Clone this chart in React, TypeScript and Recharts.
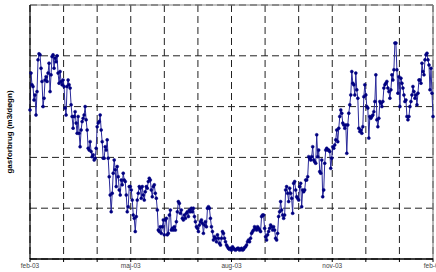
import { LineChart, Line, XAxis, YAxis, CartesianGrid, ReferenceLine } from "recharts";

// daily gas use (0-100 scale, grid every 20)
const febApr03 = [
  58.7, 73.2, 68.6, 67.9, 62.6, 64.6, 56.7, 65.9, 78.4, 80.8, 80.4, 75.1, 69.9, 60, 63.3, 70.5,
  71.8, 69.9, 73.2, 77.1, 65.9, 72.5, 79.7, 80.4, 75.1, 79.1, 77.7, 80, 73.2, 69.2, 73.8, 69.9,
  68.6, 70.5, 67.9, 59.4, 56.7, 67.9, 70.5, 68.6, 67.3, 60.7, 56.1, 51.5, 56.1, 58, 53.5, 49.5,
  56.1, 49.5, 44.2, 50.8, 54.1, 55.4, 56.7, 60, 54.8, 50.8, 43.6, 42.9, 46.2, 42.3, 40.3, 41, 39
];
const aprJun03 = [
  39.7, 43.6, 52.1, 53.5, 54.1, 56.7, 50.8, 46.2, 39.7, 39.7, 44.2, 42.9, 46.9, 39.7, 32.4, 25.2,
  18.6, 25.9, 33.8, 39, 35.1, 28.5, 36.4, 32.4, 27.2, 25.2, 31.1, 29.2, 33.8, 31.1, 30.5, 25.2,
  18.6, 20.6, 28.5, 28.5, 27.2, 23.2, 17.3, 16, 10.8, 16.7, 23.2, 25.9, 28.5, 27.9, 23.9, 28.5,
  25.2, 23.2, 26.5, 28.5, 27.9, 30.5, 31.8, 31.1, 27.2, 24.5, 28.5, 29.2, 25.9, 23.9, 19.3, 11.4,
  10.8, 12.7, 10.1, 12.7, 15.4
];
const junAug03 = [
  9.5, 15.4, 16, 9.5, 10.1, 17.3, 19.3, 11.4, 12.1, 11.4, 12.7, 11.4, 14.7, 18.6, 22.6, 21.9,
  18, 19.3, 16, 15.4, 17.3, 16, 18, 18.6, 16.7, 19.3, 18.6, 20, 18.6, 20, 16.7, 14.7,
  12.7, 12.1, 10.8, 13.4, 14.7, 15.4, 14.1, 10.1, 13.4, 14.7, 12.7, 20, 20.6, 20, 16, 12.7,
  10.8, 7.5, 8.8, 8.2, 6.8, 9.5, 8.2, 6.2, 5.5, 8.2, 10.8, 10.1, 8.2, 6.8, 5.5, 4.8,
  4.2, 3.8, 4.2, 3.5, 4.8
];
const augOct03 = [
  4.2, 3.8, 3.5, 3.8, 4.2, 4.2, 3.5, 3.8, 4.2, 3.5, 3.8, 4.5, 4.8, 5.5, 6.8, 7.5,
  6.8, 8.2, 10.1, 10.8, 11.4, 12.7, 12.1, 11.4, 12.7, 12.1, 11.4, 10.8, 16.7, 17.3, 17.3, 12.1,
  8.8, 7.5, 9.5, 10.8, 12.1, 13.4, 12.7, 11.4, 12.7, 11.4, 8.2, 7.5, 10.1, 16.7, 18.6, 22.6,
  19.3, 17.3, 16, 17.3, 27.2, 28.5, 25.9, 22.6, 27.9, 25.9, 23.9, 18, 29.8, 30.5, 27.2, 24.5,
  23.9, 23.2, 28.5, 29.8
];
const octDec03 = [
  20.6, 27.2, 26.5, 27.2, 31.1, 31.1, 32.4, 40.3, 39.7, 39, 40.3, 44.2, 39, 38.3, 37.7, 48.9,
  40.3, 42.9, 34.4, 33.8, 39, 24.5, 27.2, 37.7, 42.9, 43.6, 42.9, 42.9, 42.3, 35.7, 39.7, 44.2,
  43.6, 44.9, 46.9, 50.8, 46.2, 51.5, 56.1, 58.7, 57.4, 53.5, 52.8, 51.5, 52.8, 41.6, 52.8, 57.4,
  60.7, 64.6, 73.8, 69.2, 68.6, 64.6, 73.2, 66.6, 63.3, 51.5, 50.2, 50.8, 49.5, 52.1, 63.9, 68.6,
  64.6, 60, 59.4, 47.6, 56.1
];
const decFeb04 = [
  55.4, 56.1, 56.7, 58, 62, 72.5, 54.8, 52.1, 55.4, 62, 61.3, 60, 62, 67.3, 68.6, 69.2,
  69.9, 67.3, 65.9, 63.3, 66.6, 72.5, 70.5, 74.5, 85, 85, 74.5, 65.3, 71.8, 60, 71.2, 69.2,
  67.3, 64.6, 62, 62.6, 56.1, 54.8, 56.1, 60, 62, 64.6, 67.9, 65.9, 63.3, 64.6, 60.7, 65.3,
  70.5, 70.5, 69.2, 77.1, 73.8, 72.5, 78.4, 80.4, 81, 78.4, 76.4, 66.6, 75.1, 65.3, 56.1
];

const values = [...febApr03, ...aprJun03, ...junAug03, ...augOct03, ...octDec03, ...decFeb04];
const data = values.map((v, i) => ({ i, v }));
const last = values.length - 1;

// 13 month borders, labelled every third month
const monthLabels = ["feb-03", "", "", "maj-03", "", "", "aug-03", "", "", "nov-03", "", "", "feb-04"];
const monthTicks = monthLabels.map((_, k) => (k * last) / 12);
const yTicks = [0, 20, 40, 60, 80, 100];

const font = "Arial, 'Liberation Sans', sans-serif";

export default function App() {
  return (
    <div style={{ position: "absolute", left: 0, top: 0, background: "#fff" }}>
      <LineChart width={436} height={272} data={data} margin={{ top: 5, right: 3, bottom: 0, left: 0 }}>
        <CartesianGrid stroke="#222" strokeDasharray="7 4" />
        <XAxis
          type="number"
          dataKey="i"
          domain={[0, last]}
          ticks={monthTicks}
          interval={0}
          height={13}
          tickSize={3}
          tickMargin={1}
          tickFormatter={(_v: number, idx: number) => monthLabels[idx]}
          tick={{ fontSize: 6.5, fill: "#444", fontFamily: font }}
          axisLine={{ stroke: "#000", strokeWidth: 1.3 }}
          tickLine={{ stroke: "#000" }}
        />
        <YAxis
          domain={[0, 100]}
          ticks={yTicks}
          interval={0}
          width={30}
          tickFormatter={() => ""}
          tickLine={false}
          axisLine={{ stroke: "#000", strokeWidth: 1.2 }}
          label={{
            content: ({ viewBox }: any) => (
              <text
                x={viewBox.x + 9}
                y={viewBox.y + viewBox.height / 2}
                transform={`rotate(-90 ${viewBox.x + 9} ${viewBox.y + viewBox.height / 2})`}
                textAnchor="middle"
                dominantBaseline="central"
                fontSize={8}
                fontWeight="bold"
                fontFamily={font}
                fill="#000"
              >
                gasforbrug (m3/døgn)
              </text>
            ),
          }}
        />
        <ReferenceLine y={100} stroke="#888" strokeWidth={1.2} />
        <ReferenceLine x={last} stroke="#888" strokeWidth={1.2} />
        <Line
          type="linear"
          dataKey="v"
          stroke="#2a2a9a"
          strokeWidth={1}
          dot={{ r: 1.5, fill: "#000080", stroke: "#000080", strokeWidth: 0.5 }}
          isAnimationActive={false}
        />
      </LineChart>
    </div>
  );
}
